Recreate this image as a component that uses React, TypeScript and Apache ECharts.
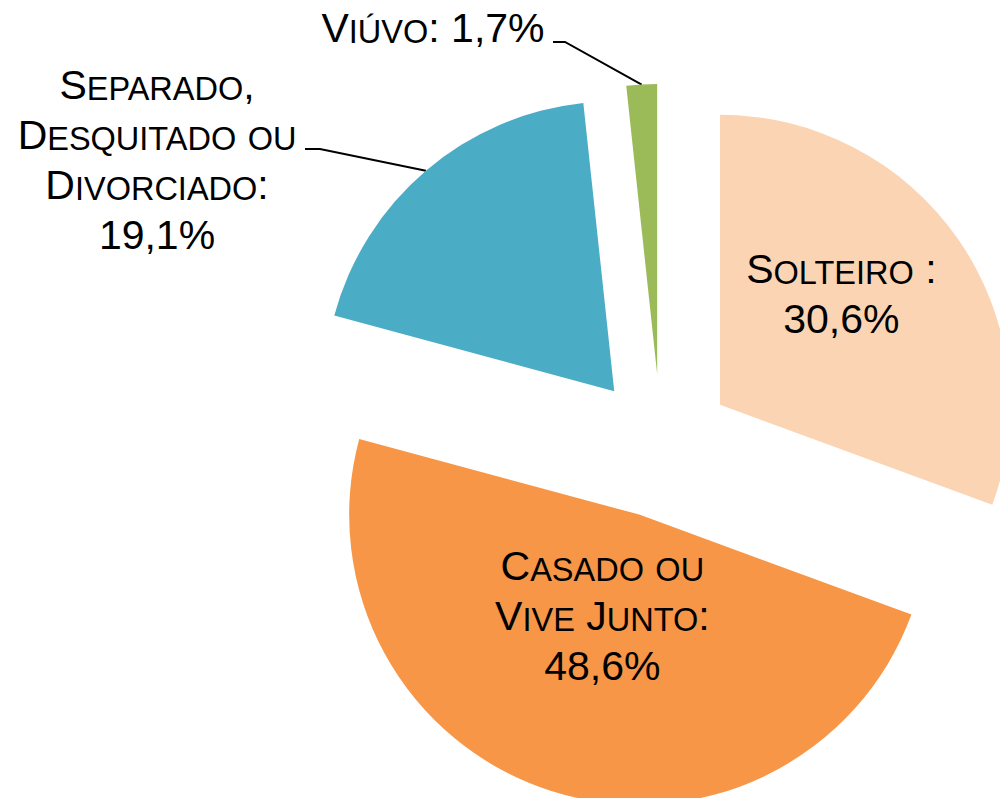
import React, { useEffect, useRef } from 'react';
import * as echarts from 'echarts';

// ---- data ----
const categories = ['Solteiro :', 'Casado ou\nVive Junto:', 'Separado,\nDesquitado ou\nDivorciado:', 'Viúvo:'];
const values = [30.6, 48.6, 19.1, 1.7];
const colors = ['#FBD4B4', '#F79646', '#4BACC6', '#9BBB59'];
const labelInside = [true, true, false, false];
const valueOnSameLine = [false, false, false, true];

// ---- layout constants ----
const CENTER = [661, 446];
const RADIUS = 290;
const OFFSET = 72;
const LABEL_LAYOUT: any[] = [
  { dx: 0, dy: -31 },
  { dx: 8, dy: -44 },
  { x: 157, y: 160, line: [[320, 149], [305, 149]] },
  { x: 433, y: 28, line: [[565, 42], [553, 42]] },
];

const FONT = '"Liberation Sans", Arial, sans-serif';

function smallCaps(s: string): string {
  return s
    .split('\n')
    .map((line) => {
      let out = '';
      line.replace(/([a-zà-öø-ÿ]+)|([^a-zà-öø-ÿ]+)/g, (m: string, low: string, other: string) => {
        out += low ? `{s|${low.toUpperCase()}}` : `{b|${other}}`;
        return m;
      });
      return out;
    })
    .join('\n');
}

function pct(v: number): string {
  return v.toFixed(1).replace('.', ',') + '%';
}

export default function App() {
  const ref = useRef<HTMLDivElement>(null);
  useEffect(() => {
    document.body.style.margin = '0';
    if (!ref.current) return;
    const chart = echarts.init(ref.current, undefined, { renderer: 'svg' });
    const data = values.map((v, i) => ({
      name: categories[i],
      value: v,
      selected: true,
      itemStyle: { color: colors[i] },
      label: { position: labelInside[i] ? 'inside' : 'outside' },
      labelLine: { show: !labelInside[i] },
    }));
    chart.setOption({
      animation: false,
      backgroundColor: '#ffffff',
      series: [
        {
          type: 'pie',
          center: CENTER,
          radius: RADIUS,
          startAngle: 90,
          clockwise: true,
          selectedMode: 'multiple',
          selectedOffset: OFFSET,
          avoidLabelOverlap: false,
          emphasis: { scale: false },
          data,
          label: {
            show: true,
            color: '#000',
            fontFamily: FONT,
            formatter: (p: any) =>
              smallCaps(p.name) + (valueOnSameLine[p.dataIndex] ? '{b| }' : '\n') + `{b|${pct(p.value)}}`,
            rich: {
              b: { fontSize: 41, fontFamily: FONT, color: '#000', lineHeight: 50, verticalAlign: 'bottom', align: 'center' },
              s: { fontSize: 32.5, fontFamily: FONT, color: '#000', lineHeight: 50, verticalAlign: 'bottom', align: 'center' },
            },
          },
          labelLine: {
            show: true,
            smooth: false,
            lineStyle: { color: '#000', width: 2 },
          },
          labelLayout: (params: any) => {
            const cfg = LABEL_LAYOUT[params.dataIndex];
            if (cfg.x != null) {
              const p0 = params.labelLinePoints ? params.labelLinePoints[0] : null;
              const rect = params.labelRect;
              let ox = 0;
              let oy = 0;
              if (p0) {
                const k = OFFSET / RADIUS;
                ox = (p0[0] - CENTER[0]) * k;
                oy = (p0[1] - CENTER[1]) * k;
              }
              const res: any = {
                dx: cfg.x - (rect.x + rect.width / 2) - ox,
                dy: cfg.y - (rect.y + rect.height / 2) - oy,
              };
              if (p0) {
                res.labelLinePoints = [p0, ...cfg.line.map((q: number[]) => [q[0] - ox, q[1] - oy])];
              }
              return res;
            }
            return { dx: cfg.dx, dy: cfg.dy };
          },
        },
      ],
    });
    return () => chart.dispose();
  }, []);
  return <div ref={ref} style={{ width: 1000, height: 798 }} />;
}
